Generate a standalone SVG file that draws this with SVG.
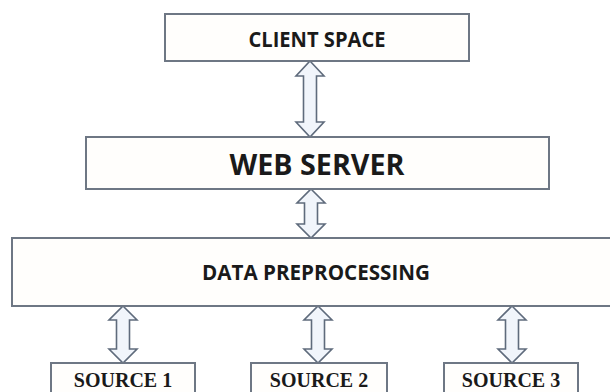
<svg xmlns="http://www.w3.org/2000/svg" width="610" height="392" viewBox="0 0 610 392">
  <style>
    .box { fill: #fffefc; stroke: #6e7784; stroke-width: 2; }
    .arrow { fill: #f1f5fb; stroke: #5f6b7c; stroke-width: 1.6; stroke-linejoin: miter; }
    .sans { font-family: "Open Sans", "Liberation Sans", sans-serif; font-weight: 700; fill: #1a1a1a; text-anchor: middle; }
    .serif { font-family: "Liberation Serif", "Times New Roman", serif; font-weight: 700; font-size: 20px; fill: #1a1a1a; text-anchor: middle; }
  </style>
  <rect width="610" height="392" fill="#ffffff"/>

  <!-- connectors: double-headed block arrows -->
  <g id="connectors">
    <path class="arrow" d="M310,61 L324,76 L316.5,76 L316.5,122 L324,122 L310,137 L296,122 L303.5,122 L303.5,76 L296,76 Z"/>
    <path class="arrow" d="M311,189 L325,203 L317.5,203 L317.5,224 L325,224 L311,238 L297,224 L304.5,224 L304.5,203 L297,203 Z"/>
    <path class="arrow" d="M123,306 L137,320 L129.5,320 L129.5,349 L137,349 L123,363 L109,349 L116.5,349 L116.5,320 L109,320 Z"/>
    <path class="arrow" d="M318,306 L332,320 L324.5,320 L324.5,349 L332,349 L318,363 L304,349 L311.5,349 L311.5,320 L304,320 Z"/>
    <path class="arrow" d="M512,306 L526,320 L518.5,320 L518.5,349 L526,349 L512,363 L498,349 L505.5,349 L505.5,320 L498,320 Z"/>
  </g>

  <g id="client-space">
    <rect class="box" x="165" y="14" width="304" height="47"/>
    <text class="sans" x="317" y="47" font-size="21" textLength="137" lengthAdjust="spacingAndGlyphs">CLIENT SPACE</text>
  </g>

  <g id="web-server">
    <rect class="box" x="86" y="137" width="463" height="52"/>
    <text class="sans" x="317" y="175" font-size="29" textLength="175" lengthAdjust="spacingAndGlyphs">WEB SERVER</text>
  </g>

  <g id="data-preprocessing">
    <rect class="box" x="12" y="238" width="610" height="68"/>
    <text class="sans" x="316" y="280" font-size="21" textLength="228" lengthAdjust="spacingAndGlyphs">DATA PREPROCESSING</text>
  </g>

  <g id="source-1">
    <rect class="box" x="51" y="363" width="144" height="40"/>
    <text class="serif" x="123" y="387">SOURCE 1</text>
  </g>

  <g id="source-2">
    <rect class="box" x="251" y="363" width="136" height="40"/>
    <text class="serif" x="319" y="387">SOURCE 2</text>
  </g>

  <g id="source-3">
    <rect class="box" x="444" y="363" width="134" height="40"/>
    <text class="serif" x="511" y="387">SOURCE 3</text>
  </g>
</svg>
